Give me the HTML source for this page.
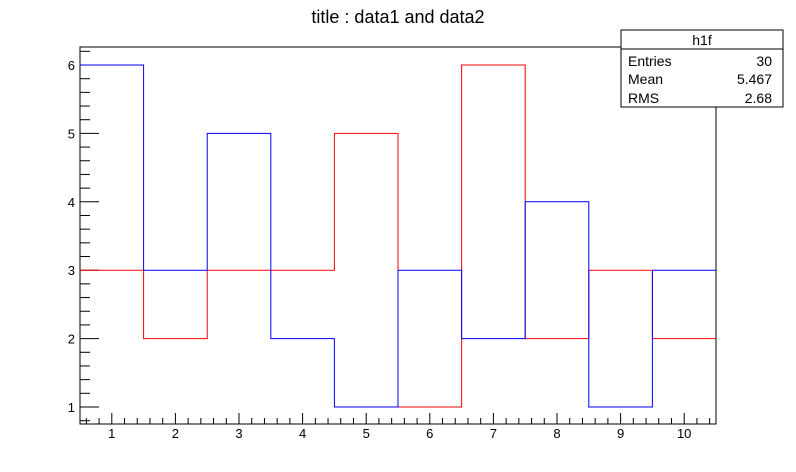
<!DOCTYPE html>
<html><head><meta charset="utf-8"><style>
body{margin:0;background:#fff;}
svg{display:block;font-family:"Liberation Sans",sans-serif;}
</style></head><body>
<svg id="chart" width="796" height="472" viewBox="0 0 796 472">
<text x="398" y="23" text-anchor="middle" font-size="18">title : data1 and data2</text>
<g id="axes"></g>
<g id="series"></g>
<g>
<rect x="621" y="30" width="162" height="77" fill="#fff" stroke="#000" stroke-width="1"/>
<line x1="621" y1="49" x2="783" y2="49" stroke="#000"/>
<text x="702" y="45" text-anchor="middle" font-size="14">h1f</text>
<text x="628" y="66" font-size="14">Entries</text><text x="772" y="66" font-size="14" text-anchor="end">30</text>
<text x="628" y="84" font-size="14">Mean</text><text x="772" y="84" font-size="14" text-anchor="end">5.467</text>
<text x="628" y="103" font-size="14">RMS</text><text x="772" y="103" font-size="14" text-anchor="end">2.68</text>
</g>
</svg>
<script>
const bins = [1,2,3,4,5,6,7,8,9,10];
const data1 = [3,2,3,3,5,1,6,2,3,2];
const data2 = [6,3,5,2,1,3,2,4,1,3];
const yTicks = [1,2,3,4,5,6];
const xTicks = [1,2,3,4,5,6,7,8,9,10];

const L=80,R=716,T=47,B=424;
function xs(v){return L+(v-0.5)*(R-L)/10;}
function ys(v){return 407-(v-1)*68.4;}
const NS="http://www.w3.org/2000/svg";
const axes=document.getElementById('axes'), series=document.getElementById('series');
function line(g,x1,y1,x2,y2,c){const l=document.createElementNS(NS,'line');l.setAttribute('x1',x1);l.setAttribute('y1',y1);l.setAttribute('x2',x2);l.setAttribute('y2',y2);l.setAttribute('stroke',c||'#000');l.setAttribute('stroke-width','1');g.appendChild(l);return l;}
function text(g,x,y,s,a){const t=document.createElementNS(NS,'text');t.setAttribute('x',x);t.setAttribute('y',y);t.setAttribute('font-size','13');t.setAttribute('text-anchor',a);t.textContent=s;g.appendChild(t);return t;}

const frame=document.createElementNS(NS,'rect');
frame.setAttribute('x',L);frame.setAttribute('y',T);frame.setAttribute('width',R-L);frame.setAttribute('height',B-T);
frame.setAttribute('fill','none');frame.setAttribute('stroke','#000');


axes.appendChild(frame);

// y ticks
for(let v=0.8;v<=6.3;v+=0.2){const y=ys(v);if(y<T||y>B)continue;const maj=Math.abs(v-Math.round(v))<0.01;line(axes,L,y,L+(maj?19:10),y);}
yTicks.forEach(v=>{const t=text(axes,75,ys(v)+5,String(v),'end');

});
// x ticks
for(let v=0.6;v<=10.45;v+=0.2){const x=xs(v);const maj=Math.abs(v-Math.round(v))<0.01;line(axes,x,B,x,B-(maj?11:6));}
xTicks.forEach(v=>{const t=text(axes,xs(v),438,String(v),'middle');

});

function hist(vals,color,name){
  let d='';
  vals.forEach((v,i)=>{const x0=xs(bins[i]-0.5),x1=xs(bins[i]+0.5),y=ys(v);d+=(i===0?'M':'L')+x0+','+y+'L'+x1+','+y;});
  const p=document.createElementNS(NS,'path');
  p.setAttribute('d',d);p.setAttribute('fill','none');p.setAttribute('stroke',color);p.setAttribute('stroke-width','1');
  
  
  series.appendChild(p);
}
hist(data1,'#ff0000','data1-histogram');
hist(data2,'#0000ff','data2-histogram');
</script>
</body></html>
